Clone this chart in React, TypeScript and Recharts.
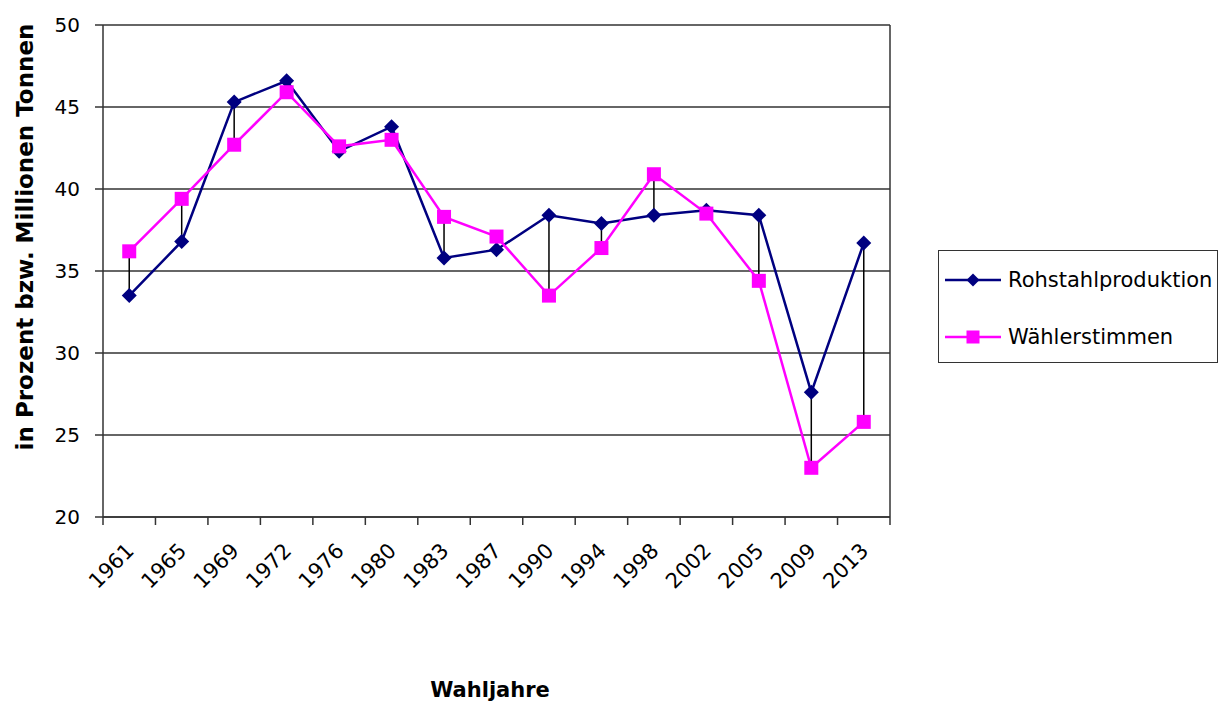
import { LineChart, Line, XAxis, YAxis, CartesianGrid, ReferenceLine, ErrorBar, Label } from 'recharts';

const years = ['1961', '1965', '1969', '1972', '1976', '1980', '1983', '1987', '1990', '1994', '1998', '2002', '2005', '2009', '2013'];
const steel = [33.5, 36.8, 45.3, 46.6, 42.3, 43.8, 35.8, 36.3, 38.4, 37.9, 38.4, 38.7, 38.4, 27.6, 36.7];
const votes = [36.2, 39.4, 42.7, 45.9, 42.6, 43.0, 38.3, 37.1, 33.5, 36.4, 40.9, 38.5, 34.4, 23.0, 25.8];
const yTicks = [20, 25, 30, 35, 40, 45, 50];
const seriesNames = ['Rohstahlproduktion', 'Wählerstimmen'];

const NAVY = '#000080';
const PINK = '#FF00FF';
const AXIS = '#333333';
const FONT = '"DejaVu Sans", sans-serif';
const BAND = 787 / 15;

// high-low lines go from the vote value to the steel value
const data = years.map((year, i) => ({
  idx: i,
  year,
  steel: steel[i],
  votes: votes[i],
  gap: votes[i] > steel[i] ? [votes[i] - steel[i], 0] : [0, steel[i] - votes[i]],
}));

const Diamond = ({ cx, cy, r = 7.5 }: any) => {
  if (cx == null || cy == null) return null;
  return <path d={`M${cx},${cy - r}L${cx + r},${cy}L${cx},${cy + r}L${cx - r},${cy}Z`} fill={NAVY} />;
};

const Square = ({ cx, cy, s = 14 }: any) => {
  if (cx == null || cy == null) return null;
  return <rect x={cx - s / 2} y={cy - s / 2} width={s} height={s} fill={PINK} />;
};

const XTick = (p: any) => {
  const { x, y, payload } = p;
  const i = payload.value;
  return (
    <g>
      <line x1={x - BAND / 2} x2={x - BAND / 2} y1={y} y2={y + 8} stroke={AXIS} strokeWidth={1.5} />
      {i === years.length - 1 && <line x1={x + BAND / 2} x2={x + BAND / 2} y1={y} y2={y + 8} stroke={AXIS} strokeWidth={1.5} />}
      <text
        transform={`translate(${x + 6},${y + 35}) rotate(-45)`}
        textAnchor="end"
        fontSize={21}
        fontFamily={FONT}
        fill="#000"
      >
        {years[i]}
      </text>
    </g>
  );
};

function LegendBox() {
  const rows = [
    { name: seriesNames[0], color: NAVY, marker: <Diamond cx={28} cy={10} r={6.5} /> },
    { name: seriesNames[1], color: PINK, marker: <Square cx={28} cy={10} s={13} /> },
  ];
  return (
    <div
      style={{
        position: 'absolute',
        left: 930,
        top: 242,
        width: 280,
        height: 113,
        border: `1px solid ${AXIS}`,
        boxSizing: 'border-box',
        background: '#fff',
      }}
    >
      {rows.map((r, i) => (
        <div key={r.name} style={{ position: 'absolute', left: 6, top: (i === 0 ? 29 : 86) - 12, height: 24, display: 'flex', alignItems: 'center' }}>
          <svg width={56} height={20} style={{ display: 'block' }}>
            <line x1={0} x2={56} y1={10} y2={10} stroke={r.color} strokeWidth={2.5} />
            {r.marker}
          </svg>
          <span style={{ marginLeft: 7, fontFamily: FONT, fontSize: 21, color: '#000', whiteSpace: 'nowrap' }}>{r.name}</span>
        </div>
      ))}
    </div>
  );
}

export default function App() {
  return (
    <div style={{ position: 'relative', width: 1222, height: 696 }}>
      <LineChart width={1222} height={696} data={data} margin={{ top: 17, right: 340, bottom: 0, left: 0 }}>
        <CartesianGrid vertical={false} stroke={AXIS} strokeWidth={1.5} />
        <XAxis
          dataKey="idx"
          type="number"
          domain={[-0.5, 14.5]}
          ticks={data.map((d) => d.idx)}
          interval={0}
          height={187}
          tickSize={0}
          tickMargin={0}
          tickLine={false}
          stroke={AXIS}
          strokeWidth={1.5}
          tick={<XTick />}
        >
          <Label
            content={() => (
              <text x={482} y={689} textAnchor="middle" fontSize={21} fontWeight="bold" fontFamily={FONT} fill="#000">
                Wahljahre
              </text>
            )}
          />
        </XAxis>
        <YAxis
          type="number"
          domain={[20, 50]}
          ticks={yTicks}
          interval={0}
          width={95}
          tickSize={8}
          tickMargin={15}
          stroke={AXIS}
          strokeWidth={1.5}
          tick={{ fontSize: 20, fill: '#000', fontFamily: FONT }}
        >
          <Label
            content={() => (
              <text
                transform="translate(25,229) rotate(-90)"
                textAnchor="middle"
                fontSize={23}
                fontWeight="bold"
                fontFamily={FONT}
                fill="#000"
              >
                in Prozent bzw. Millionen Tonnen
              </text>
            )}
          />
        </YAxis>
        <ReferenceLine x={14.5} stroke={AXIS} strokeWidth={1.5} />
        <Line
          dataKey="steel"
          name={seriesNames[0]}
          stroke={NAVY}
          strokeWidth={2.5}
          isAnimationActive={false}
          dot={(p: any) => <Diamond key={`d${p.index}`} cx={p.cx} cy={p.cy} />}
          activeDot={false}
        />
        <Line
          dataKey="votes"
          name={seriesNames[1]}
          stroke={PINK}
          strokeWidth={2.5}
          isAnimationActive={false}
          dot={(p: any) => <Square key={`s${p.index}`} cx={p.cx} cy={p.cy} />}
          activeDot={false}
        />
        <Line
          dataKey="votes"
          legendType="none"
          stroke="none"
          dot={false}
          activeDot={false}
          isAnimationActive={false}
        >
          <ErrorBar dataKey="gap" direction="y" width={0} stroke="#000" strokeWidth={1.5} isAnimationActive={false} />
        </Line>
      </LineChart>
      <LegendBox />
    </div>
  );
}
